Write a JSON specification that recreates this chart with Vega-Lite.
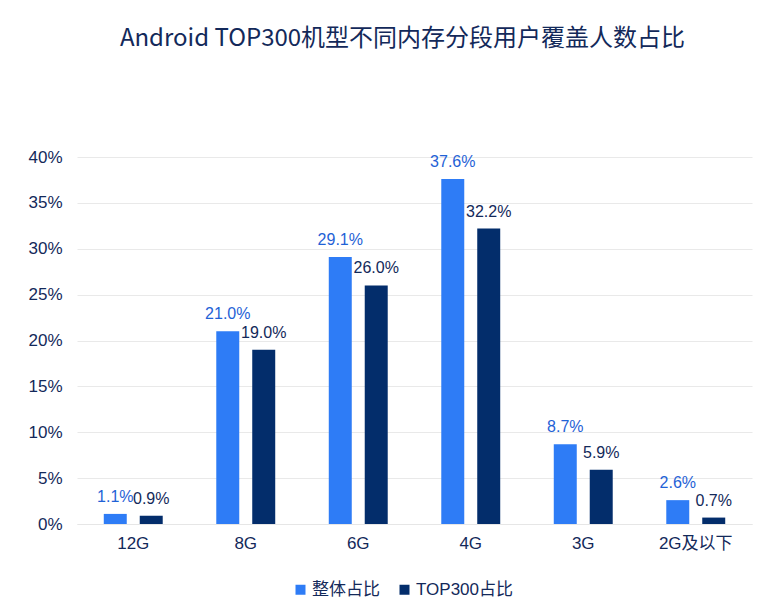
{
  "$schema": "https://vega.github.io/schema/vega-lite/v6.json",
  "width": 675,
  "height": 367,
  "autosize": {"type": "none"},
  "padding": {"left": 77, "top": 157, "right": 20, "bottom": 88},
  "background": "white",
  "title": {
    "text": "Android TOP300机型不同内存分段用户覆盖人数占比",
    "font": "Noto Sans CJK SC",
    "fontSize": 24,
    "fontWeight": "normal",
    "color": "#13295a",
    "offset": 97,
    "dx": -12,
    "anchor": "middle"
  },
  "config": {
    "view": {"stroke": null},
    "font": "Liberation Sans"
  },
  "data": {
    "values": [
      {"cat": "12G", "series": "整体占比", "v": 0.011},
      {"cat": "12G", "series": "TOP300占比", "v": 0.009},
      {"cat": "8G", "series": "整体占比", "v": 0.210},
      {"cat": "8G", "series": "TOP300占比", "v": 0.190},
      {"cat": "6G", "series": "整体占比", "v": 0.291},
      {"cat": "6G", "series": "TOP300占比", "v": 0.260},
      {"cat": "4G", "series": "整体占比", "v": 0.376},
      {"cat": "4G", "series": "TOP300占比", "v": 0.322},
      {"cat": "3G", "series": "整体占比", "v": 0.087},
      {"cat": "3G", "series": "TOP300占比", "v": 0.059},
      {"cat": "2G及以下", "series": "整体占比", "v": 0.026},
      {"cat": "2G及以下", "series": "TOP300占比", "v": 0.007}
    ]
  },
  "encoding": {
    "x": {
      "field": "cat",
      "type": "nominal",
      "sort": ["12G", "8G", "6G", "4G", "3G", "2G及以下"],
      "scale": {"paddingInner": 0.476, "paddingOuter": 0.238},
      "axis": {
        "title": null,
        "labelAngle": 0,
        "labelFont": "Liberation Sans, Noto Sans CJK SC",
        "labelFontSize": 17,
        "labelColor": "#13295a",
        "labelPadding": 11,
        "ticks": false,
        "domainColor": "#e6e6e6",
        "domainWidth": 1
      }
    },
    "xOffset": {
      "field": "series",
      "type": "nominal",
      "sort": ["整体占比", "TOP300占比"],
      "scale": {"paddingInner": 0.361, "paddingOuter": 0}
    },
    "y": {
      "field": "v",
      "type": "quantitative",
      "scale": {"domain": [0, 0.4], "nice": false},
      "axis": {
        "title": null,
        "format": ".0%",
        "values": [0, 0.05, 0.1, 0.15, 0.2, 0.25, 0.3, 0.35, 0.4],
        "labelFont": "Liberation Sans",
        "labelFontSize": 17,
        "labelColor": "#13295a",
        "labelPadding": 15,
        "ticks": false,
        "domain": false,
        "gridColor": "#e9e9e9",
        "gridWidth": 1
      }
    }
  },
  "layer": [
    {
      "mark": {"type": "bar"},
      "encoding": {
        "color": {
          "field": "series",
          "type": "nominal",
          "sort": ["整体占比", "TOP300占比"],
          "scale": {"domain": ["整体占比", "TOP300占比"], "range": ["#2e7cf6", "#032d6b"]},
          "legend": {
            "title": null,
            "orient": "none",
            "legendX": 215,
            "legendY": 424,
            "direction": "horizontal",
            "symbolType": "square",
            "symbolSize": 100,
            "symbolStrokeWidth": 0,
            "labelFont": "Liberation Sans, Noto Sans CJK SC",
            "labelFontSize": 17,
            "labelColor": "#13295a",
            "columnPadding": 16,
            "labelOffset": 3
          }
        }
      }
    },
    {
      "mark": {"type": "text", "baseline": "bottom", "dy": -9, "fontSize": 16, "font": "Liberation Sans"},
      "encoding": {
        "text": {"field": "v", "type": "quantitative", "format": ".1%"},
        "color": {
          "field": "series",
          "type": "nominal",
          "scale": {"domain": ["整体占比", "TOP300占比"], "range": ["#1f62d6", "#13295a"]},
          "legend": null
        }
      }
    }
  ],
  "resolve": {"scale": {"color": "independent"}}
}
